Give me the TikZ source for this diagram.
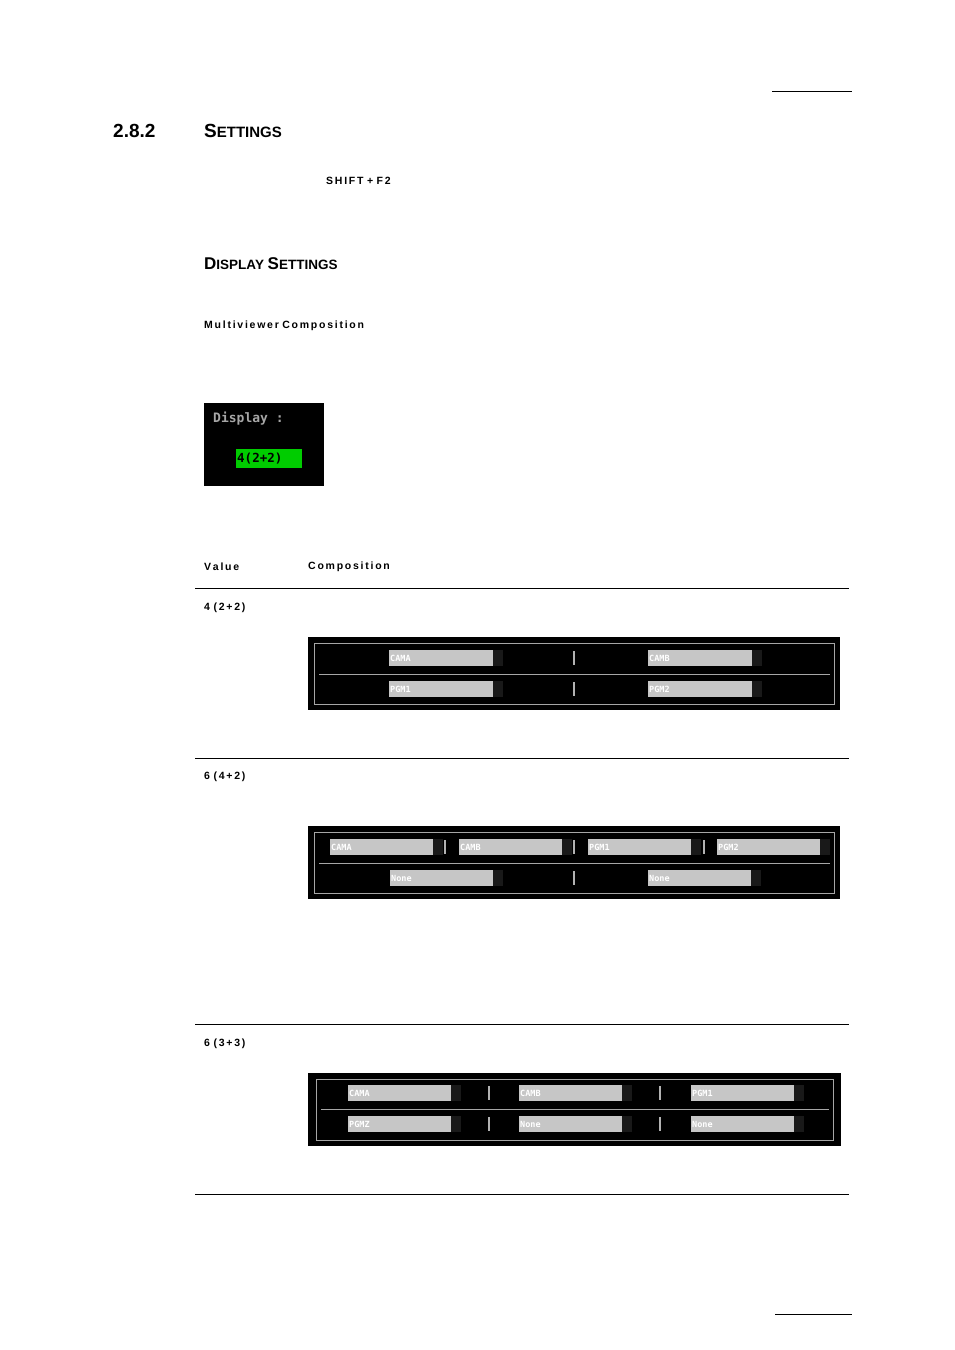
\documentclass[tikz,border=0pt]{standalone}
\usepackage{fontspec}
\setmainfont{Liberation Sans}
\newfontfamily\scr{DejaVu Sans Mono}
\begin{document}
\begin{tikzpicture}[x=1pt,y=-1pt,
  hd/.style={anchor=west,inner sep=0,font=\bfseries},
  lbl/.style={anchor=west,inner sep=0,font=\bfseries\fontsize{10.5}{12}\selectfont},
  stxt/.style={anchor=west,inner sep=1pt,text=white,font=\scr\bfseries\fontsize{8.5}{9}\selectfont},
  rule/.style={line width=0.6pt}]
\useasboundingbox (0,0) rectangle (954,1350);
\fill[white] (0,0) rectangle (954,1350);
\newcommand{\sbar}[4]{\fill[gray!45] (#1,#2-8) rectangle ++(#3,16);
  \fill[black!80!gray] (#1+#3,#2-8) rectangle ++(10,16);
  \node[stxt] at (#1,#2) {#4};}
\newcommand{\ssep}[2]{\fill[gray!60] (#1-1,#2-7) rectangle ++(2.2,14);}
\draw[rule] (772,91) -- (852,91);
\draw[rule] (775,1314) -- (852,1314);
\node[hd,font=\bfseries\fontsize{19}{22}\selectfont] (h1) at (113,131) {2.8.2};
\node[hd,font=\bfseries\fontsize{19}{22}\selectfont] (h2) at (204,131) {S\fontsize{15}{18}\selectfont ETTINGS};
\node[lbl] (sh) at (326,181) {S\,H\,I\,F\,T\,\,+\,\,F\,2};
\node[hd,font=\bfseries\fontsize{17}{20}\selectfont] (ds) at (204,264) {D\fontsize{13.5}{16}\selectfont ISPLAY \fontsize{17}{20}\selectfont S\fontsize{13.5}{16}\selectfont ETTINGS};
\node[lbl] (mc) at (204,326) {M\,u\,l\,t\,i\,v\,i\,e\,w\,e\,r\,\,C\,o\,m\,p\,o\,s\,i\,t\,i\,o\,n};
% display box
\fill[black] (204,403) rectangle (324,486);
\node[anchor=west,inner sep=0,text=gray!70,font=\scr\bfseries\fontsize{13}{14}\selectfont] (dl) at (213,419) {Display :};
\fill[green!80!black] (236,449) rectangle (302,468);
\node[anchor=west,inner sep=1pt,text=black,font=\scr\bfseries\fontsize{12.5}{13}\selectfont] (dv) at (236,458.5) {4(2+2)};
% table header
\node[lbl] (tv) at (204,567) {V\,a\,l\,u\,e};
\node[lbl] (tc) at (308,567) {C\,o\,m\,p\,o\,s\,i\,t\,i\,o\,n};
\draw[line width=1pt] (195,588) -- (849,588);
\draw[rule] (195,758) -- (849,758);
\draw[rule] (195,1024) -- (849,1024);
\draw[rule] (195,1194) -- (849,1194);
\node[lbl] (v1) at (204,608) {4\,\,(\,2\,+\,2\,)};
\node[lbl] (v2) at (204,777) {6\,\,(\,4\,+\,2\,)};
\node[lbl] (v3) at (204,1044) {6\,\,(\,3\,+\,3\,)};
% screen 1
\fill[black] (308,637) rectangle (840,710);
\draw[gray!70,line width=0.8pt] (314,643) rectangle (834,704);
\draw[gray!70,line width=0.6pt] (319,674) -- (830,674);
\sbar{389}{658}{104}{CAMA}\sbar{648}{658}{104}{CAMB}
\sbar{389}{689}{104}{PGM1}\sbar{648}{689}{104}{PGM2}
\ssep{574}{658}\ssep{574}{689}
% screen 2
\fill[black] (308,826) rectangle (840,899);
\draw[gray!70,line width=0.8pt] (314,832) rectangle (834,893);
\draw[gray!70,line width=0.6pt] (319,863) -- (830,863);
\sbar{330}{847}{103}{CAMA}\sbar{459}{847}{103}{CAMB}\sbar{588}{847}{103}{PGM1}\sbar{717}{847}{103}{PGM2}
\ssep{445}{847}\ssep{574}{847}\ssep{704}{847}
\sbar{390}{878}{103}{None}\sbar{648}{878}{103}{None}
\ssep{574}{878}
% screen 3
\fill[black] (308,1073) rectangle (841,1146);
\draw[gray!70,line width=0.8pt] (316,1079) rectangle (833,1140);
\draw[gray!70,line width=0.6pt] (321,1109) -- (829,1109);
\sbar{348}{1093}{103}{CAMA}\sbar{519}{1093}{103}{CAMB}\sbar{691}{1093}{103}{PGM1}
\sbar{348}{1124}{103}{PGMZ}\sbar{519}{1124}{103}{None}\sbar{691}{1124}{103}{None}
\ssep{489}{1093}\ssep{660}{1093}\ssep{489}{1124}\ssep{660}{1124}
\end{tikzpicture}
\end{document}
